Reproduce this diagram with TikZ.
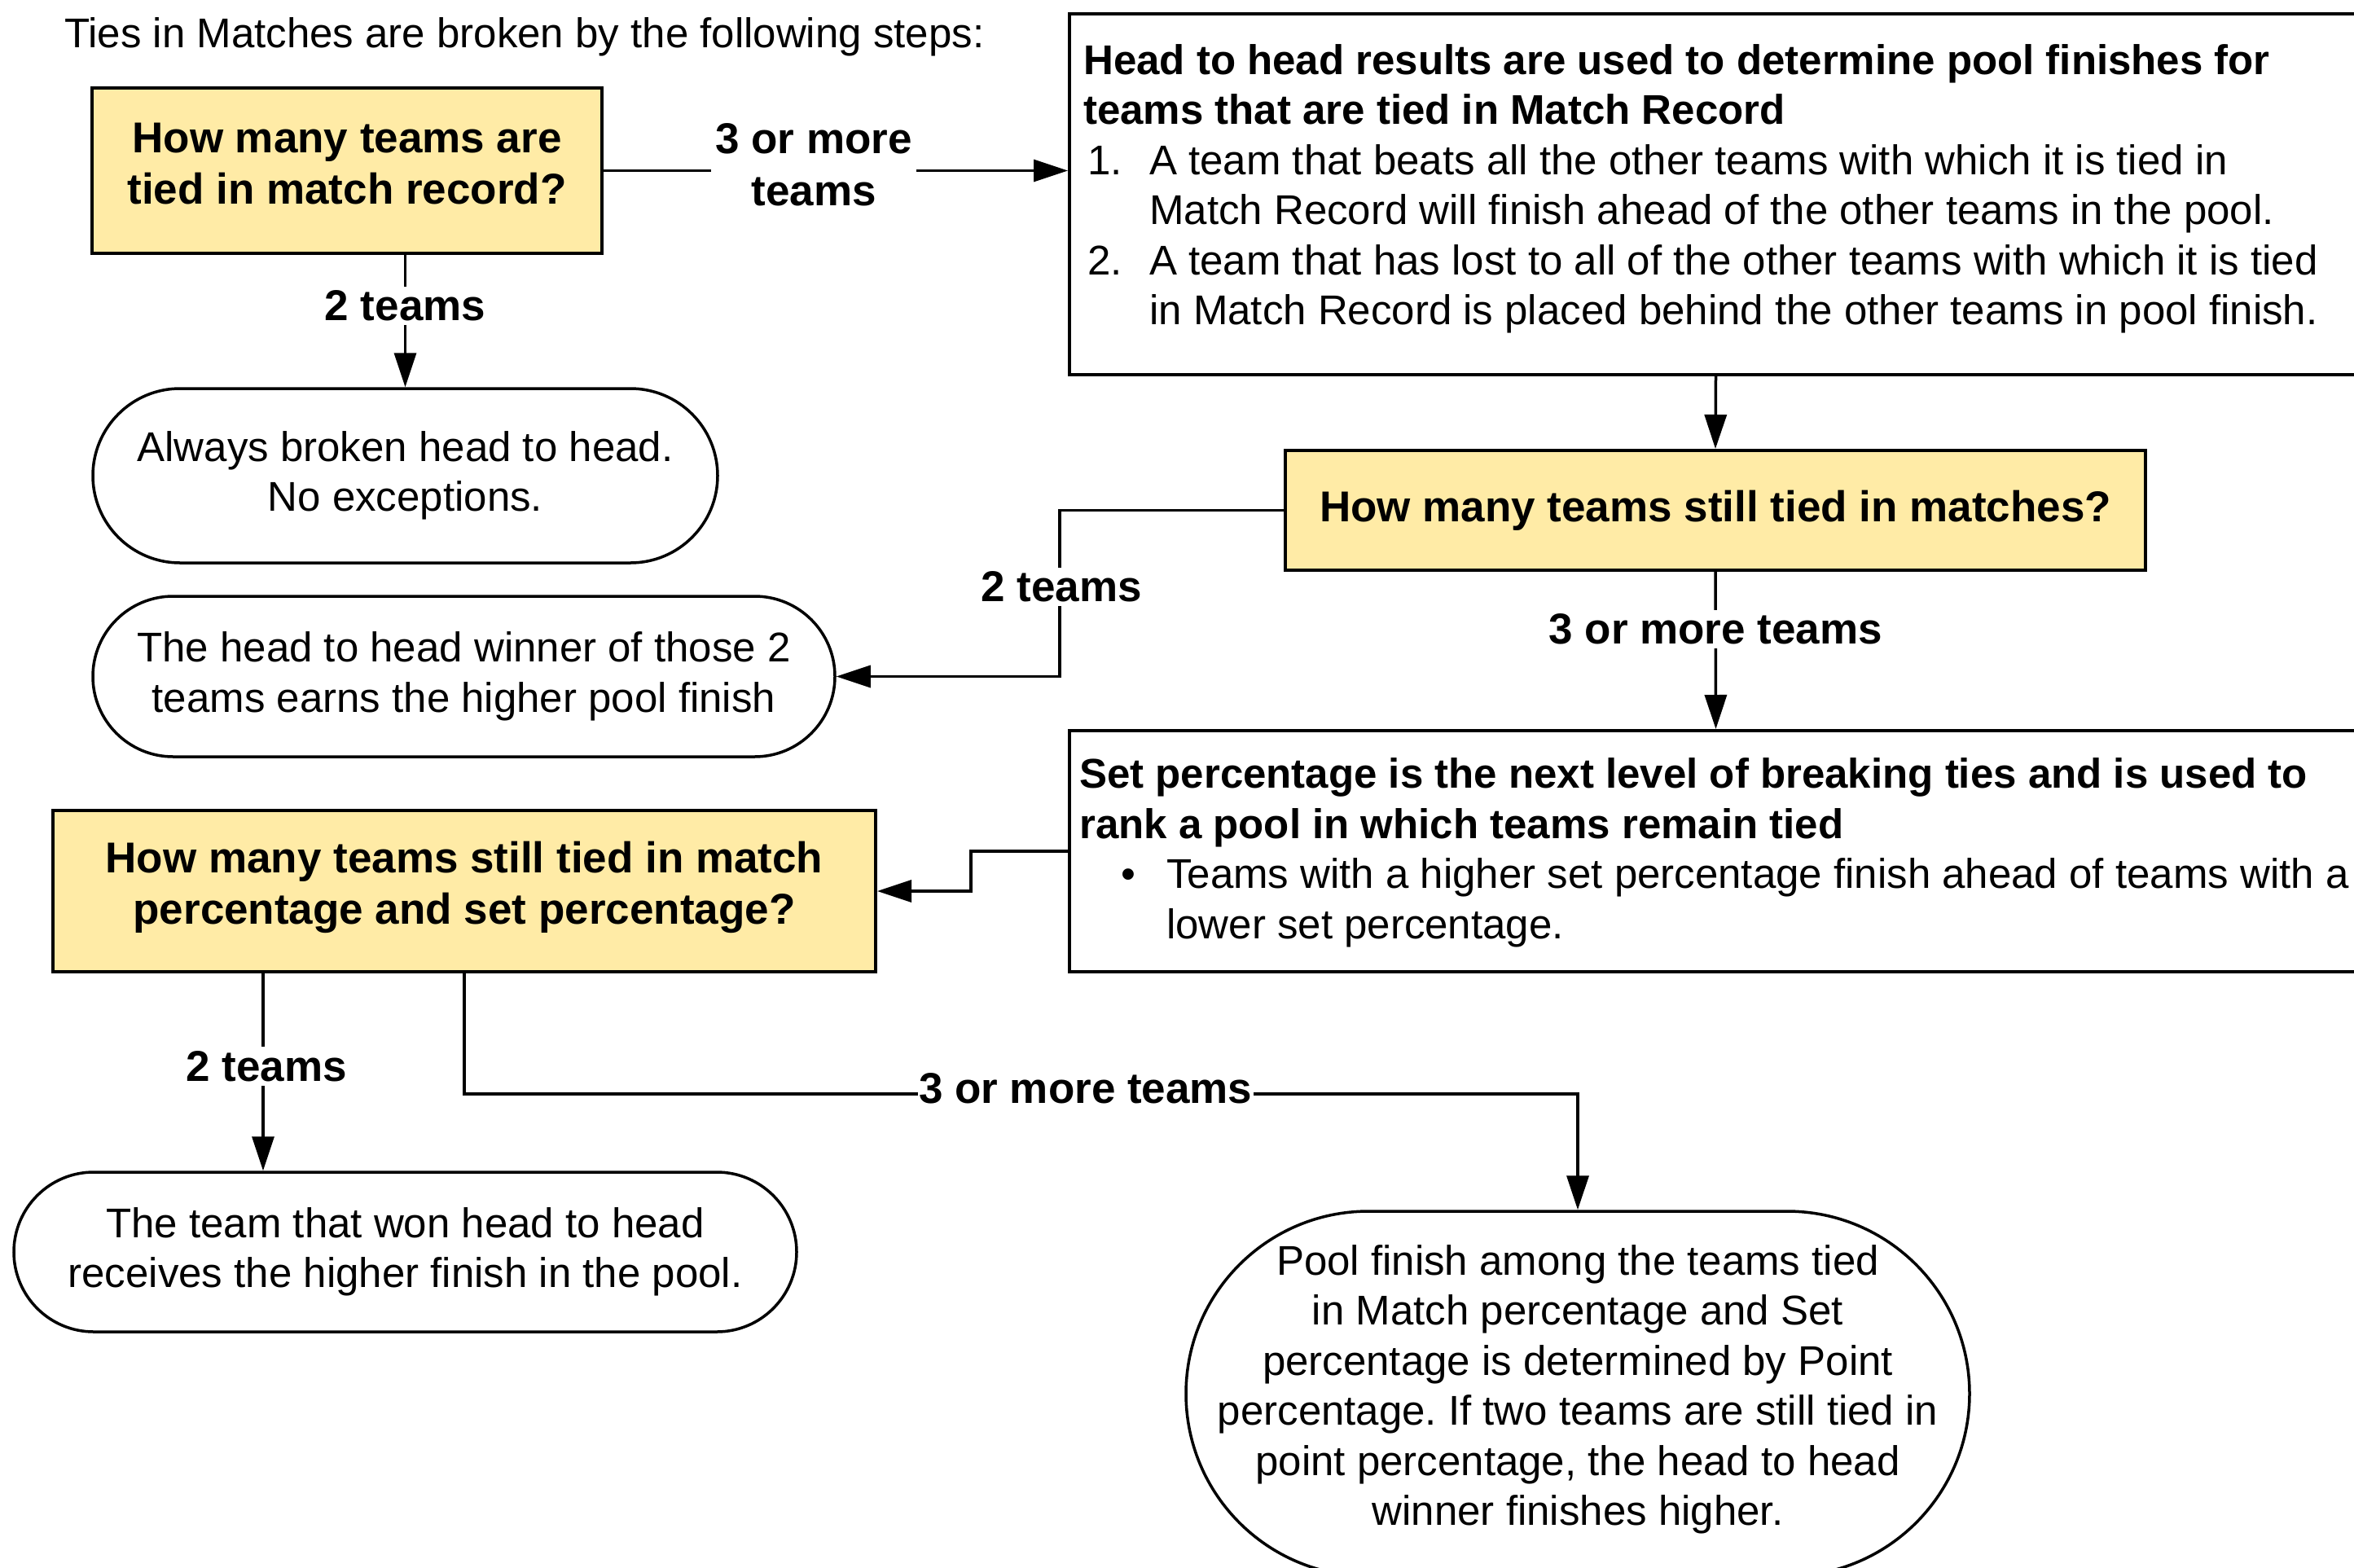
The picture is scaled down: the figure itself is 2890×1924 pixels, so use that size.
\documentclass[tikz,border=0pt]{standalone}
\usepackage{fontspec}
\setmainfont{Liberation Sans}
\usetikzlibrary{arrows.meta,shapes.misc}
\definecolor{qyellow}{HTML}{FFEBA6}
\newcommand\myQfont{\fontsize{53}{63}\selectfont\bfseries}
\newcommand\myNfont{\fontsize{51}{61.5}\selectfont}
\newcommand\myLfont{\fontsize{53}{64}\selectfont\bfseries}
\frenchspacing
\begin{document}
\begin{tikzpicture}[x=1pt,y=-1pt,
  qbox/.style={draw, line width=4pt, fill=qyellow, rectangle, align=center, font=\myQfont, inner sep=0pt},
  qtext/.style={align=center, font=\myQfont, inner sep=0pt},
  infobox/.style={draw, line width=4pt, rectangle, inner sep=0pt},
  infotext/.style={align=left, font=\myNfont, inner sep=0pt, anchor=west},
  term/.style={draw, line width=3.5pt, rounded rectangle, align=center, font=\myNfont, inner sep=0pt},
  bigterm/.style={draw, line width=3.5pt, rectangle, align=center, font=\myNfont, inner sep=0pt},
  conn/.style={line width=3.5pt, -{Triangle[length=42pt,width=27pt]}},
  lbl/.style={fill=white, font=\myLfont, align=center, inner sep=5pt},
]
\useasboundingbox[fill=white] (0,0) rectangle (2890,1924);

\node[anchor=base west, font=\myNfont, inner sep=0pt] (title) at (79,59) {Ties in Matches are broken by the following steps:};

% nodes
\node[qbox, minimum width=626pt, minimum height=203pt] (box1) at (426,209.5) {};
\node[qtext] (box1t) at (426,201) {How many teams are\\tied in match record?};
\node[term, minimum width=767pt, minimum height=214pt] (ell1) at (497.5,584) {Always broken head to head.\\No exceptions.};
\node[infobox, minimum width=1587pt, minimum height=443pt] (bb1) at (2106.5,238.5) {};
\node[infotext] (bb1t) at (1330,232) {%
\textbf{Head to head results are used to determine pool finishes for}\\
\textbf{teams that are tied in Match Record}\\
\makebox[81pt][l]{\hspace{5pt}1.}A team that beats all the other teams with which it is tied in\\
\hspace*{81pt}Match Record will finish ahead of the other teams in the pool.\\
\makebox[81pt][l]{\hspace{5pt}2.}A team that has lost to all of the other teams with which it is tied\\
\hspace*{81pt}in Match Record is placed behind the other teams in pool finish.};
\node[qbox, minimum width=1056pt, minimum height=147pt] (box2) at (2106,626.5) {How many teams still tied in matches?};
\node[term, minimum width=911pt, minimum height=197pt] (ell2) at (569.5,830.5) {The head to head winner of those 2\\teams earns the higher pool finish};
\node[infobox, minimum width=1587pt, minimum height=296pt] (bb2) at (2106.5,1045) {};
\node[infotext] (bb2t) at (1325,1047) {%
\textbf{Set percentage is the next level of breaking ties and is used to}\\
\textbf{rank a pool in which teams remain tied}\\
\makebox[107pt][l]{\hspace{51pt}\textbullet}Teams with a higher set percentage finish ahead of teams with a\\
\hspace*{107pt}lower set percentage.};
\node[qbox, minimum width=1010pt, minimum height=198pt] (box3) at (570,1094) {};
\node[qtext] (box3t) at (570,1089) {How many teams still tied in match\\percentage and set percentage?};
\node[term, minimum width=961pt, minimum height=196pt] (ell3) at (497.5,1537) {The team that won head to head\\receives the higher finish in the pool.};
\node[bigterm, rounded corners=224pt, minimum width=962pt, minimum height=448pt] (ell4) at (1937,1711) {};
\node[align=center, font=\myNfont, inner sep=0pt] (ell4t) at (1937,1706) {Pool finish among the teams tied\\in Match percentage and Set\\percentage is determined by Point\\percentage. If two teams are still tied in\\point percentage, the head to head\\winner finishes higher.};

% connectors
\draw[conn] (box1.east) -- node[lbl, pos=0.453, yshift=7pt] (l1) {3 or more\\teams} (bb1.west |- box1.east);
\draw[conn] (box1.south -| ell1.north) -- node[lbl, pos=0.386] (l2) {2 teams} (ell1.north);
\draw[conn] (bb1.south) -- (box2.north);
\draw[conn] (box2.west) -- ++(-275,0) coordinate (k1) -- node[lbl, pos=0.46, xshift=2pt] (l3) {2 teams} (k1 |- ell2.east) -- (ell2.east);
\draw[conn] (box2.south) -- node[lbl, pos=0.365] (l4) {3 or more teams} (bb2.north);
\draw[conn] (bb2.west) -- ++(-119,0) coordinate (k2) -- (k2 |- box3.east) -- (box3.east);
\coordinate (b3l) at ([xshift=-247pt]box3.south);
\draw[conn] (b3l) -- node[lbl, pos=0.47, xshift=4pt] (l5) {2 teams} (b3l |- ell3.north);
\draw[conn] (box3.south) -- ++(0,148) coordinate (k3) -- node[lbl, pos=0.558, inner xsep=1pt, yshift=7pt] (l6) {3 or more teams} (k3 -| ell4.north) -- (ell4.north);
\end{tikzpicture}
\end{document}
